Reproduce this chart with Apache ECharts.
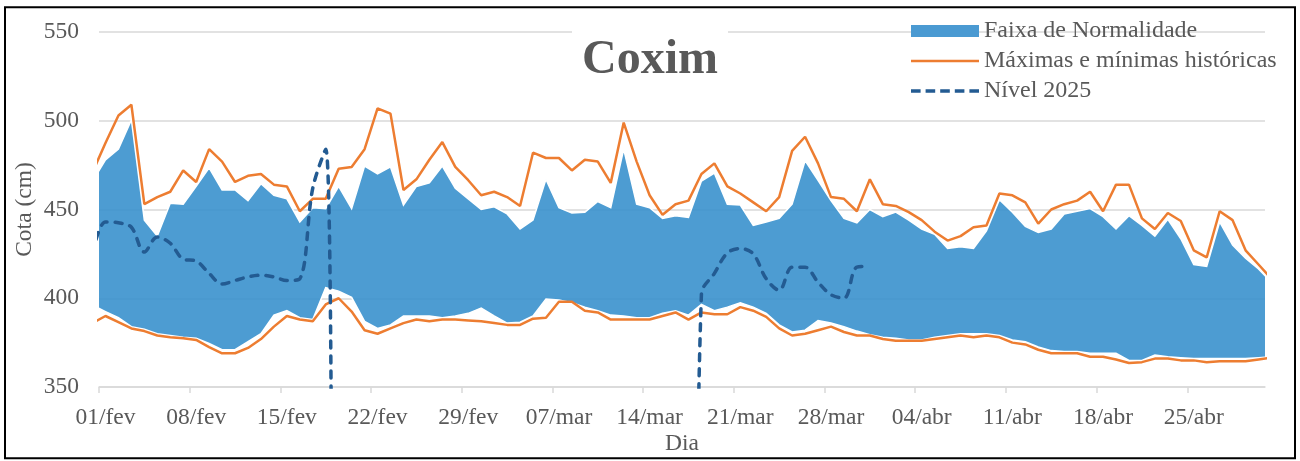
<!DOCTYPE html>
<html><head><meta charset="utf-8">
<script src="https://cdn.jsdelivr.net/npm/echarts@6/dist/echarts.min.js"></script>
<style>html,body{margin:0;padding:0;background:#fff}#c{width:1300px;height:461px}</style>
</head><body><div id="c"></div>
<script>
// Days: 31/jan (clipped) ... 01/fev ... 30/abr ... 01/mai (clipped); values at mid-day
const tickLabels = ['01/fev','08/fev','15/fev','22/fev','29/fev','07/mar','14/mar','21/mar','28/mar','04/abr','11/abr','18/abr','25/abr'];
const yTicks = [350, 400, 450, 500, 550];

// Máximas históricas
const maxHist = [471,
  487.5,503,509,453,457,460,472,465.5,484,477,
  465.5,469,470,464,463,449,456,456,473,474,
  484,507,504,461,467,478,488,474,466.5,458,
  460,457,452,482,479,479,472,478,477,465,
  499,477,458,447,453,455,470,476,463,459,
  454,449,457,483,491,476,457,456,449,467,
  453,452,448.5,444,437.5,432.5,435,440,441,459,
  458,454,442,450,453,455,460,449,464,464,
  445,439,448,443.5,427,423,449,444,427,419,411];
// Mínimas históricas
const minHist = [386,
  390,386.5,383,381.5,379,378,377.5,376.5,372.5,369,
  369,372,377,384,390,388,387,396.5,400,392.5,
  382,380,383,386,388,387,388,388,387.5,387,
  386,385,385,388.5,389,398,398,393,392,388,
  388,388,388,390,392,388,392,391,391,395,
  393,389.5,383,379,380,382,384,381,379,379,
  377,376,376,376,377,378,379,378,379,378,
  375,374,371,369,369,369,367,367,365.5,363.5,
  364,366,366,365,365,364,364.5,364.5,364.5,365.5,366.5];
// Faixa de normalidade: limite superior
const bandMax = [466,
  478,484,500.5,444,435,453.5,453,463,473.5,461,
  461,455,464.5,458,456,443,451,450.5,463,450.5,
  474.5,470,474,452.5,463,465,474.5,462,456,450,
  451.5,447.5,439,444,467,451,448,448.5,454.5,451,
  484,453,451,445,446.5,445.5,466,470.5,453,452.5,
  441,443,445,453,477.5,466.5,455,445,442.5,450,
  446,448.5,444,439,436,428,429,428,438,455.5,
  448.5,440.5,437,439,447.5,449,450.5,446,439,446.5,
  441,435,444.5,433.5,419,418,443,430,422.5,416.5,409];
// Faixa de normalidade: limite inferior
const bandMin = [396,
  392.5,389,384,382.5,380,379,378,377.5,374.5,371,
  371,375.5,380,390.5,393,389,388,406,404,400.5,
  387,383,385,390,390,390,389,390,391.5,394.5,
  390,386,386.5,390,399.5,399,397.5,395,393,390.5,
  390,389,389,391.5,393,390.5,396.5,393,395,397.5,
  395,391.5,385,381,382,387.5,386,384,381.5,379.5,
  378,377.5,376.5,376.5,378,379,380,380,380,379,
  376.5,375.5,372.5,370.5,370,370,369,369,369,365,
  365,368,367,366.5,366,366,366,366,366,366.5,367];
// Nível 2025 (blank days plotted as 0, as in the source)
const nivel2025 = [425,
  443,442.5,440,426,434.5,431,422,421,414,408,
  410,412,413,412,410,411,462,484,0,0,
  0,0,0,0,0,0,0,0,0,0,
  0,0,0,0,0,0,0,0,0,0,
  0,0,0,0,0,0,402.5,414,425.5,428,
  425,411,404.5,417.5,417.5,409,402,400,417.5,418,
  null,null,null,null,null,null,null,null,null,null,
  null,null,null,null,null,null,null,null,null,null,
  null,null,null,null,null,null,null,null,null,null,null];

const TXT = '#595959', GRID = '#D9D9D9', FONT = '"Liberation Serif","Times New Roman",serif';
const BAND = 'rgba(52,142,204,0.88)', ORANGE = '#ED7D31', DARK = '#235B92';
const xOf = i => i - 0.5;
const pts = arr => arr.map((v, i) => [xOf(i), v]);
const tickPos = tickLabels.map((_, i) => i * 7);
const labelPos = tickLabels.map((_, i) => i * 7 + 0.5);

// legend icons (bounding box 68x12 kept by the leading moves)
const lineIcon = 'path://M0,0M68,12M0,4.8L68,4.8L68,7.2L0,7.2Z';
const dashIcon = 'path://M0,0M68,12' +
  [0, 14.6, 29.2, 43.8, 58.4].map(s => `M${s},4.25L${s + 9.6},4.25L${s + 9.6},7.75L${s},7.75Z`).join('');

const chart = echarts.init(document.getElementById('c'), null, {renderer: 'canvas'});
chart.setOption({
  animation: false,
  backgroundColor: '#fff',
  title: {
    text: 'Coxim', left: 'center', top: 24, padding: [13, 10, 2, 10], backgroundColor: '#fff', z: 10,
    textStyle: {fontFamily: FONT, fontWeight: 'bold', fontSize: 48, color: TXT}
  },
  legend: {
    orient: 'vertical', left: 911, top: 19, padding: 0, itemGap: 6,
    itemWidth: 68, itemHeight: 12,
    textStyle: {fontFamily: FONT, fontSize: 24, color: TXT, lineHeight: 24},
    data: [
      {name: 'Faixa de Normalidade', icon: 'rect', itemStyle: {color: '#4A9AD2', borderWidth: 0}},
      {name: 'Máximas e mínimas históricas', icon: lineIcon, itemStyle: {color: ORANGE, borderWidth: 0}},
      {name: 'Nível 2025', icon: dashIcon, itemStyle: {color: DARK, borderWidth: 0}}
    ]
  },
  grid: {left: 99, right: 35, top: 32, bottom: 74, containLabel: false},
  xAxis: {
    type: 'value', min: 0, max: 90,
    name: 'Dia', nameLocation: 'middle', nameGap: 45, nameMoveOverlap: false,
    nameTextStyle: {fontFamily: FONT, fontSize: 23.5, color: TXT},
    axisLine: {show: true, lineStyle: {color: GRID, width: 1.5}},
    axisTick: {show: true, length: 6, customValues: tickPos, lineStyle: {color: GRID, width: 1.5}},
    axisLabel: {
      customValues: labelPos, margin: 19, fontFamily: FONT, fontSize: 23.5, color: TXT,
      formatter: v => tickLabels[Math.round((v - 0.5) / 7)] || ''
    },
    splitLine: {show: false}
  },
  yAxis: {
    type: 'value', min: 350, max: 550, interval: 50,
    name: 'Cota (cm)', nameLocation: 'middle', nameRotate: 90, nameGap: 62, nameMoveOverlap: false,
    nameTextStyle: {fontFamily: FONT, fontSize: 23.5, color: TXT},
    axisLine: {show: false}, axisTick: {show: false},
    axisLabel: {margin: 20, fontFamily: FONT, fontSize: 23.5, color: TXT,
      formatter: v => yTicks.includes(v) ? String(v) : ''},
    splitLine: {lineStyle: {color: GRID, width: 1.5}}
  },
  series: [
    {
      name: 'Faixa de Normalidade', type: 'custom', z: 2, clip: true, color: '#4A9AD2',
      data: bandMax.map((v, i) => [xOf(i), bandMin[i], v]),
      encode: {x: 0, y: [1, 2]},
      renderItem: (params, api) => {
        if (params.dataIndex !== 0) return null;
        const top = bandMax.map((v, i) => api.coord([xOf(i), v]));
        const bot = bandMin.map((v, i) => api.coord([xOf(i), v])).reverse();
        return {
          type: 'polygon',
          shape: {points: top.concat(bot)},
          style: {fill: BAND, stroke: '#fff', lineWidth: 1.5}
        };
      }
    },
    {
      name: 'Máximas e mínimas históricas', type: 'line', data: pts(maxHist),
      symbol: 'none', z: 3, color: ORANGE,
      lineStyle: {color: ORANGE, width: 2.5}
    },
    {
      name: 'Máximas e mínimas históricas', type: 'line', data: pts(minHist),
      symbol: 'none', z: 3, color: ORANGE,
      lineStyle: {color: ORANGE, width: 2.5}
    },
    {
      name: 'Nível 2025', type: 'line', data: pts(nivel2025),
      symbol: 'none', z: 4, smooth: 0.35, color: DARK,
      lineStyle: {color: DARK, width: 3.5, type: [7, 8], cap: 'round'}
    }
  ],
  graphic: [{
    type: 'rect', z: 100, silent: true,
    shape: {x: 5, y: 7.3, width: 1290, height: 451},
    style: {fill: 'none', stroke: '#000', lineWidth: 2}
  }]
});
</script></body></html>
